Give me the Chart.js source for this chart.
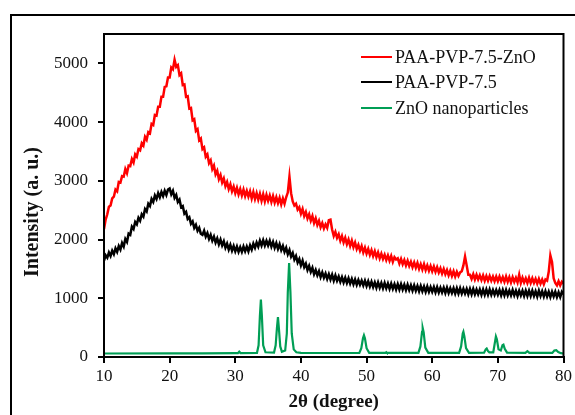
<!DOCTYPE html>
<html><head><meta charset="utf-8">
<script src="https://cdn.jsdelivr.net/npm/chart.js@4.4.1/dist/chart.umd.min.js"></script>
<style>html,body{margin:0;padding:0;background:#fff;}#c{display:block;}</style>
</head><body>
<canvas id="c" width="575" height="415"></canvas>
<script>
// 2θ grid for the two polymer scans (10° to 80°, every 0.25°)
const thetaStart = 10, thetaStep = 0.25;
// PAA-PVP-7.5-ZnO intensity (a. u.)
const redY = [
2180,2340,2430,2560,2580,2700,2730,2850,2820,2980,2970,3080,3070,3200,3130,3260,3250,3370,3310,3450,
3410,3540,3520,3640,3600,3750,3700,3830,3810,3970,3950,4120,4110,4260,4260,4430,4430,4600,4610,4760,
4760,4930,4900,5060,4940,4970,4800,4830,4630,4640,4430,4440,4230,4240,4030,4050,3850,3880,3690,3720,
3540,3570,3410,3450,3300,3350,3200,3260,3110,3170,3030,3100,2970,3040,2910,2980,2860,2940,2820,2900,
2790,2880,2770,2860,2750,2850,2740,2830,2730,2820,2700,2810,2690,2790,2680,2780,2660,2770,2650,2760,
2660,2750,2640,2740,2630,2720,2620,2710,2600,2700,2610,2720,2800,3070,2790,2650,2580,2610,2510,2550,
2440,2520,2400,2470,2360,2430,2320,2400,2280,2360,2250,2320,2210,2280,2190,2260,2200,2330,2340,2170,
2060,2130,2030,2090,1980,2060,1950,2030,1920,2000,1890,1980,1870,1950,1840,1910,1810,1890,1780,1860,
1760,1840,1740,1820,1720,1800,1700,1780,1680,1760,1670,1740,1650,1730,1640,1720,1620,1700,1660,1680,
1590,1670,1580,1650,1560,1640,1550,1620,1530,1610,1520,1600,1500,1580,1490,1580,1480,1560,1470,1550,
1460,1540,1450,1530,1440,1510,1420,1500,1410,1480,1390,1470,1380,1460,1370,1450,1380,1440,1460,1560,
1710,1560,1400,1400,1330,1410,1320,1400,1320,1390,1310,1390,1300,1380,1300,1380,1300,1370,1290,1370,
1290,1370,1290,1360,1280,1370,1280,1360,1270,1360,1280,1350,1270,1400,1260,1350,1270,1340,1260,1350,
1260,1340,1260,1330,1250,1330,1250,1320,1240,1320,1300,1450,1730,1620,1340,1260,1220,1290,1220,1280,
1250];
// PAA-PVP-7.5 intensity (a. u.)
const blackY = [
1640,1730,1690,1780,1720,1810,1750,1850,1790,1890,1830,1940,1880,2010,1960,2100,2080,2220,2180,2300,
2260,2370,2320,2430,2390,2520,2480,2610,2570,2690,2640,2750,2690,2790,2720,2810,2740,2830,2760,2850,
2870,2770,2830,2710,2760,2640,2680,2550,2570,2440,2470,2350,2380,2270,2310,2200,2250,2150,2200,2100,
2080,2150,2050,2110,2010,2080,1980,2050,1950,2020,1920,2000,1900,1970,1860,1930,1830,1910,1810,1890,
1800,1880,1790,1870,1790,1880,1800,1880,1800,1900,1830,1930,1860,1950,1880,1980,1900,1990,1900,1980,
1900,1980,1880,1960,1860,1940,1840,1920,1820,1890,1790,1860,1750,1820,1710,1770,1660,1720,1610,1670,
1560,1640,1530,1590,1480,1550,1450,1520,1410,1480,1390,1460,1360,1440,1350,1420,1330,1410,1320,1400,
1300,1390,1300,1370,1280,1360,1270,1350,1260,1340,1250,1330,1240,1320,1230,1310,1230,1300,1220,1300,
1210,1290,1200,1280,1190,1270,1180,1270,1180,1260,1170,1260,1170,1250,1160,1250,1160,1240,1150,1240,
1150,1240,1150,1230,1140,1230,1140,1220,1130,1220,1130,1210,1120,1210,1120,1200,1110,1200,1110,1190,
1110,1190,1100,1190,1100,1180,1100,1180,1090,1180,1090,1170,1090,1170,1080,1170,1080,1170,1080,1160,
1080,1160,1070,1160,1070,1160,1070,1150,1070,1150,1060,1150,1060,1150,1060,1150,1060,1140,1060,1140,
1060,1140,1050,1140,1050,1140,1050,1130,1050,1140,1050,1130,1040,1130,1050,1130,1040,1130,1040,1130,
1040,1130,1040,1120,1030,1130,1040,1120,1030,1120,1030,1110,1020,1110,1030,1110,1020,1100,1020,1110,
1070];
// ZnO nanoparticles: 2θ positions and intensities
const zncX = [10,20,25,30,30.4,30.6,30.8,33.3,33.55,33.75,33.9,34.05,34.25,34.6,35.9,36.15,36.35,36.5,36.65,36.85,37.1,37.6,37.85,38.0,38.2,38.4,38.6,38.9,39.3,40,
48.9,49.2,49.45,49.6,49.75,50.0,50.4,52.9,53.0,53.1,57.9,58.2,58.45,58.55,58.7,58.95,59.4,64.1,64.4,64.65,64.75,64.9,65.15,65.6,
67.9,68.15,68.3,68.5,68.7,69.3,69.55,69.7,69.85,70.1,70.45,70.7,70.85,71.05,71.4,74.2,74.5,74.8,78.3,78.6,78.9,79.2,79.6,80];
const zncY = [60,62,63,65,65,90,66,68,200,700,980,700,200,80,75,200,500,680,480,180,90,110,400,1100,1600,1100,400,130,80,70,
68,150,320,370,320,150,70,70,80,70,70,180,430,495,420,160,70,70,180,400,430,350,150,70,
72,130,145,100,80,80,250,350,300,130,110,200,210,140,75,70,100,70,70,110,115,85,65,60];
const seriesNames = ['PAA-PVP-7.5-ZnO','PAA-PVP-7.5','ZnO nanoparticles'];
const seriesColors = ['#ff0000','#000000','#009e55'];
const xTicks = [10,20,30,40,50,60,70,80];
const yTicks = [0,1000,2000,3000,4000,5000];

const SERIF = '"Liberation Serif","Times New Roman",serif';
const pts = arr => arr.map((v,i)=>({x: thetaStart + i*thetaStep, y: v}));
const greenPts = zncX.map((x,i)=>({x, y: zncY[i]}));

const framePlugin = {
  id:'frame',
  beforeDraw(chart){
    const ctx = chart.ctx;
    ctx.save();
    ctx.fillStyle='#fff'; ctx.fillRect(0,0,chart.width,chart.height);
    ctx.strokeStyle='#000'; ctx.lineWidth=2;
    ctx.strokeRect(11,15,700,600);
    ctx.restore();
  },
  afterDraw(chart){
    const ctx = chart.ctx, a = chart.chartArea;
    ctx.save();
    ctx.strokeStyle='#000'; ctx.lineWidth=2;
    ctx.strokeRect(a.left, a.top, a.right-a.left, a.bottom-a.top);
    // y-axis title
    ctx.translate(33, 212);
    ctx.rotate(-Math.PI/2);
    ctx.fillStyle='#111';
    ctx.font = 'bold 20px '+SERIF;
    ctx.textAlign='center'; ctx.textBaseline='middle';
    ctx.fillText('Intensity (a. u.)', 0, 0);
    ctx.restore();
    // legend
    ctx.save();
    ctx.font = '18px '+SERIF;
    ctx.textBaseline='middle'; ctx.textAlign='left';
    const rows=[57,82,108];
    chart.data.datasets.forEach((ds,i)=>{
      const y = rows[i];
      ctx.strokeStyle = ds.borderColor; ctx.lineWidth=2;
      ctx.beginPath(); ctx.moveTo(361,y); ctx.lineTo(392,y); ctx.stroke();
      ctx.fillStyle='#111';
      ctx.fillText(ds.label, 395, y+1);
    });
    ctx.restore();
  }
};

new Chart(document.getElementById('c'), {
  type:'line',
  data:{datasets:[
    {label:seriesNames[0], data:pts(redY), borderColor:seriesColors[0], borderWidth:2.5, pointRadius:0, tension:0, fill:false},
    {label:seriesNames[1], data:pts(blackY), borderColor:seriesColors[1], borderWidth:2.5, pointRadius:0, tension:0, fill:false},
    {label:seriesNames[2], data:greenPts, borderColor:seriesColors[2], borderWidth:2.2, pointRadius:0, tension:0, fill:false}
  ]},
  options:{
    responsive:false, animation:false, devicePixelRatio:1,
    layout:{padding:{left:0,right:8,top:34,bottom:0}},
    plugins:{legend:{display:false}, tooltip:{enabled:false}},
    scales:{
      x:{type:'linear', min:10, max:80,
        afterBuildTicks(s){ s.ticks = xTicks.map(v=>({value:v})); },
        afterFit(s){ s.height = 58; },
        ticks:{font:{family:SERIF,size:17}, color:'#111', padding:3, maxRotation:0, autoSkip:false, callback:v=>String(v)},
        grid:{display:true, drawOnChartArea:false, drawTicks:true, tickLength:6, color:'#000', lineWidth:2},
        border:{display:true, color:'#000', width:2},
        title:{display:true, text:'2θ (degree)', font:{family:SERIF,size:19,weight:'bold'}, color:'#111', padding:{top:0,bottom:2}}
      },
      y:{type:'linear', min:0, max:5500,
        afterBuildTicks(s){ s.ticks = yTicks.map(v=>({value:v})); },
        afterFit(s){ s.width = 104; },
        ticks:{font:{family:SERIF,size:17}, color:'#111', padding:10, callback:v=>String(v)},
        grid:{display:true, drawOnChartArea:false, drawTicks:true, tickLength:6, color:'#000', lineWidth:2},
        border:{display:true, color:'#000', width:2}
      }
    }
  },
  plugins:[framePlugin]
});
</script>
</body></html>
